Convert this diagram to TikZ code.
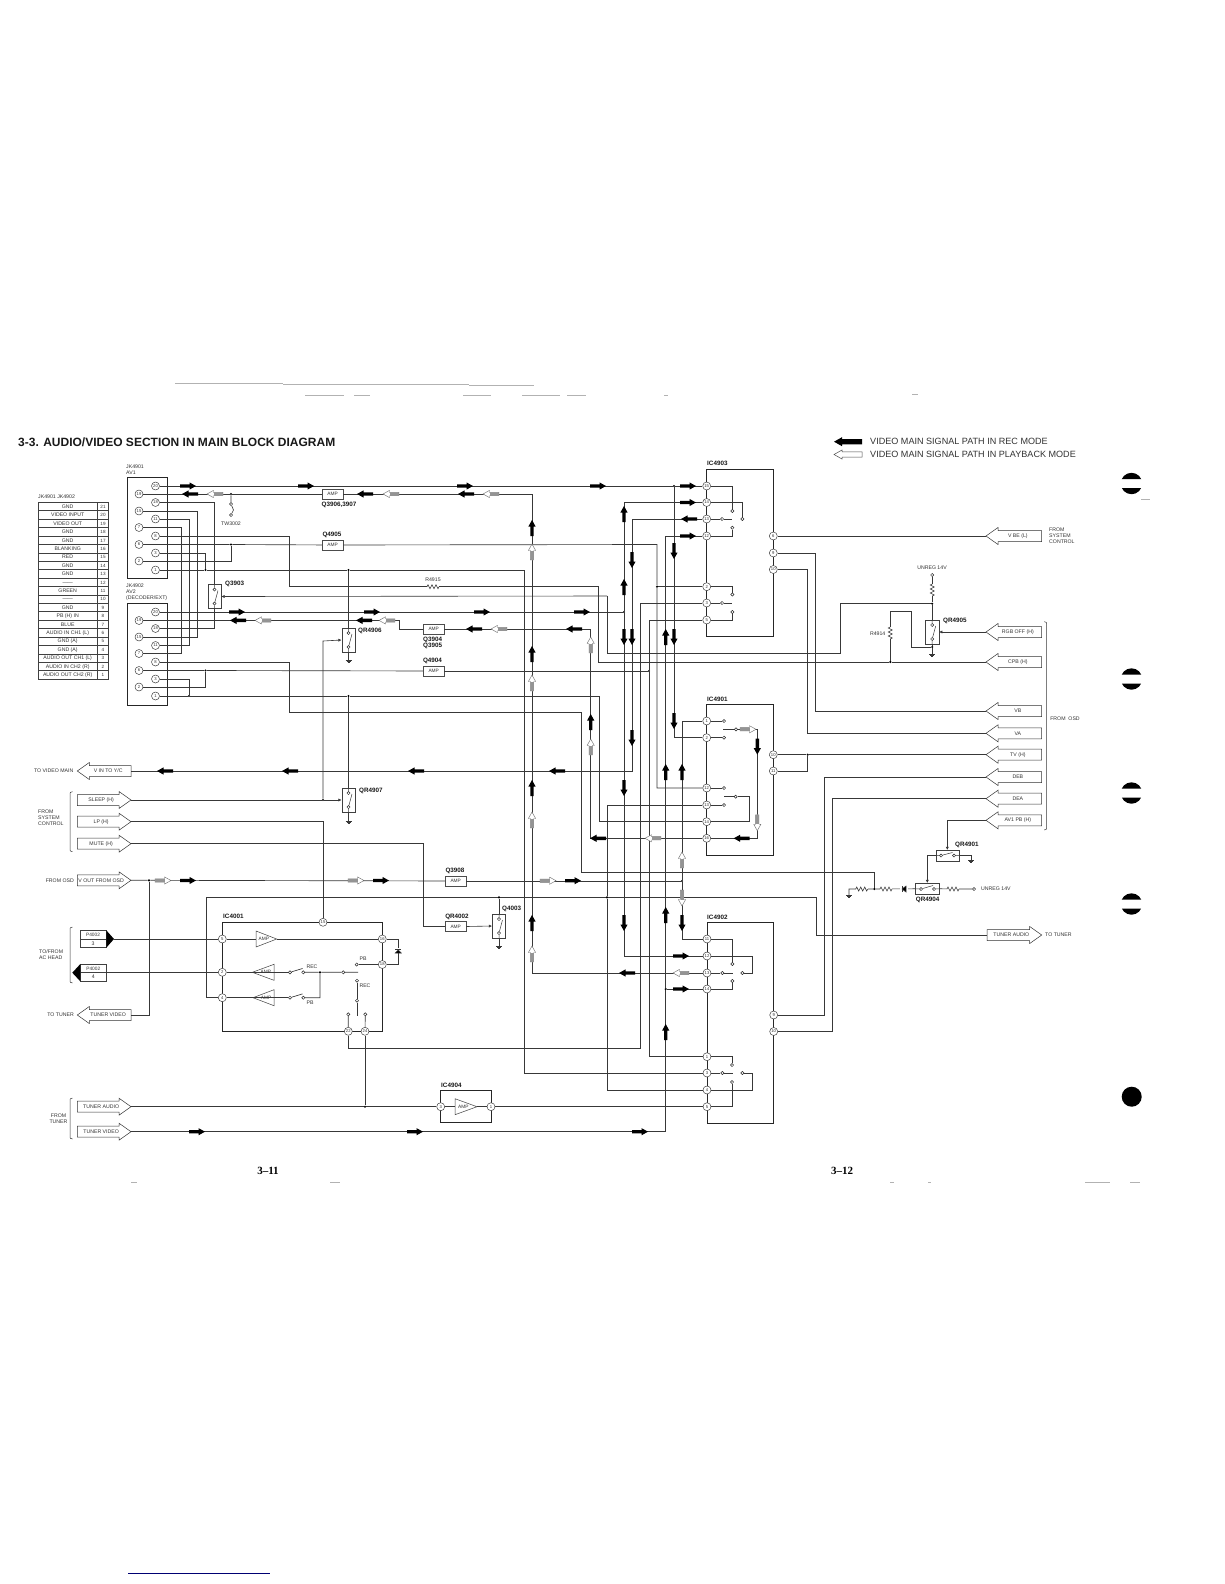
\documentclass[tikz,border=0pt]{standalone}
\usepackage{fontspec}
\setmainfont{Liberation Sans}
\newfontfamily\pagefont{Liberation Serif}
\usetikzlibrary{arrows.meta,fit}
\definecolor{ink}{gray}{0.22}
\definecolor{txt}{gray}{0.2}
\tikzset{
 wire/.style={draw=ink,line width=0.65pt},
 ctl/.style={draw=ink,line width=0.6pt,-{Latex[length=3.2pt,width=3.2pt]}},
 icbox/.style={draw=black!85,line width=0.85pt,inner sep=0pt},
 jackbox/.style={draw=black!85,line width=0.7pt,inner sep=0pt},
 pinnode/.style={circle,draw=black!80,fill=white,line width=0.45pt,minimum size=8pt,inner sep=0pt,text=txt,font=\fontsize{4.2}{5}\selectfont},
 termnode/.style={circle,draw=black!85,fill=white,line width=0.5pt,minimum size=3.2pt,inner sep=0pt},
 dotnode/.style={circle,fill=black,minimum size=2.4pt,inner sep=0pt},
 ampbox/.style={draw=black!70,fill=white,line width=0.5pt,minimum width=21pt,minimum height=10pt,inner sep=0pt,text=txt,font=\fontsize{4.8}{5}\selectfont},
 swbox/.style={draw=black!75,fill=white,line width=0.5pt,minimum width=13.4pt,minimum height=24pt,inner sep=0pt},
 lbl/.style={inner sep=0pt,text=txt,font=\fontsize{5.2}{6}\selectfont},
 rowlbl/.style={lbl,text height=3.7pt,text depth=0pt},
 blbl/.style={inner sep=0pt,text=black!90,font=\bfseries\fontsize{6.3}{6.6}\selectfont},
 portline/.style={draw=black!80,fill=white,line width=0.5pt},
 tri/.style={draw=black!75,fill=white,line width=0.5pt},
 strayline/.style={draw=black!30,line width=0.5pt},
}
% signal path arrows: centre x, y, canvas angle
\newcommand\recA[3]{\fill[black,shift={(#1,#2)},rotate=#3] (-8,-1.7)--(1.5,-1.7)--(1.5,-3.6)--(8,0)--(1.5,3.6)--(1.5,1.7)--(-8,1.7)--cycle;}
\newcommand\pbA[3]{\begin{scope}[shift={(#1,#2)},rotate=#3]\draw[fill=white,draw=black!60,line width=0.4pt] (-8,-1.7)--(1.5,-1.7)--(1.5,-3.6)--(8,0)--(1.5,3.6)--(1.5,1.7)--(-8,1.7)--cycle;\fill[black!42] (-8,-1.5) rectangle (1.5,1.5);\end{scope}}
\newcommand\pinN[4]{\node[pinnode] (#1) at (#2,#3) {#4};}
\newcommand\termN[3]{\node[termnode] (#1) at (#2,#3) {};}
\newcommand\dotN[3]{\node[dotnode] (#1) at (#2,#3) {};}
\newcommand\portL[5]{\coordinate (#1) at (#2,#3);\coordinate (#1-end) at ({#2+#4},#3);\draw[portline] (#1)--++(12,8.5)--++(0,-3)--++({#4-12},0)--++(0,-11)--++({12-#4},0)--++(0,-3)--cycle;\node[lbl] (#1-text) at ({#2+10+(#4-12)/2},#3) {#5};}
\newcommand\portR[5]{\coordinate (#1) at ({#2+#4},#3);\coordinate (#1-start) at (#2,#3);\draw[portline] (#1)--++(-12,8.5)--++(0,-3)--++({12-#4},0)--++(0,-11)--++({#4-12},0)--++(0,-3)--cycle;\node[lbl] (#1-text) at ({#2+3+(#4-12)/2},#3) {#5};}
\newcommand\vSwitch[3]{\node[swbox] (#1) at (#2,#3) {};\termN{#1a}{#2}{#3-7}\termN{#1b}{#2}{#3+7}\draw[wire,line width=.5pt] (#1.north)--(#1a) (#1b)--(#1.south) (#1b)--({#2+3.5},{#3-6});}
\newcommand\gndS[2]{\draw[ink,line width=.6pt] ({#1-3},#2)--({#1+3},#2) ({#1-2},{#2+1.3})--({#1+2},{#2+1.3}) ({#1-1},{#2+2.6})--({#1+1},{#2+2.6});}
\newcommand\resH[2]{\fill[white] ({#1-6},{#2-1})rectangle({#1+6},{#2+1});\draw[ink,line width=.6pt] ({#1-6},#2)--++(1,-2)--++(2,4)--++(2,-4)--++(2,4)--++(2,-4)--++(2,4)--++(1,-2);}
\newcommand\resV[2]{\fill[white] ({#1-1},{#2-6})rectangle({#1+1},{#2+6});\draw[ink,line width=.6pt] (#1,{#2-6})--++(-2,1)--++(4,2)--++(-4,2)--++(4,2)--++(-4,2)--++(4,2)--++(-2,1);}
\newcommand\ampTri[5]{\coordinate (#1t) at (#2,#3);\coordinate (#1b) at (#4,#3);\draw[tri] (#2,#3)--(#4,{#3-8})--(#4,{#3+8})--cycle;\node[inner sep=0pt,text=txt,font=\fontsize{4.8}{5}\selectfont] (#1) at ({#4+(#2-#4)*0.38},#3) {#5};}
\newcommand\braceL[3]{\draw[ink,line width=.5pt] ({#1+2.5},#2) .. controls (#1,#2) and (#1,{#2+1}) .. (#1,{#2+3}) -- (#1,{#3-3}) .. controls (#1,{#3-1}) and (#1,#3) .. ({#1+2.5},#3);}
\newcommand\braceR[3]{\draw[ink,line width=.5pt] ({#1-2.5},#2) .. controls (#1,#2) and (#1,{#2+1}) .. (#1,{#2+3}) -- (#1,{#3-3}) .. controls (#1,{#3-1}) and (#1,#3) .. ({#1-2.5},#3);}
\newcommand\capMark[2]{\begin{scope}\clip (1100,#2-15) rectangle (1160,#2-4.5) (1100,#2+4.5) rectangle (1160,#2+15);\fill[black] (#1,#2) circle (10.7);\end{scope}}
\begin{document}
\begin{tikzpicture}[x=1pt,y=-1pt]
\useasboundingbox (0,0) rectangle (1224,1584);
\fill[white] (0,0) rectangle (1224,1584);

% ---------- title, legend, page numbers
\node[anchor=west,inner sep=0pt,font=\bfseries\fontsize{12}{14}\selectfont,text=black!90] (title) at (18,442.5) {3-3. AUDIO/VIDEO SECTION IN MAIN BLOCK DIAGRAM};
\fill[black,shift={(848,441.7)}] (-14,0)--(-6,-4.5)--(-6,-2.6)--(14,-2.6)--(14,2.6)--(-6,2.6)--(-6,4.5)--cycle;
\draw[black!70,fill=white,line width=.5pt,shift={(848,454.5)}] (-14,0)--(-6,-4.5)--(-6,-2.6)--(14,-2.6)--(14,2.6)--(-6,2.6)--(-6,4.5)--cycle;
\node[anchor=west,inner sep=0pt,font=\fontsize{9.07}{10}\selectfont,text=txt] (leg1) at (870,441.7) {VIDEO MAIN SIGNAL PATH IN REC MODE};
\node[anchor=west,inner sep=0pt,font=\fontsize{9.07}{10}\selectfont,text=txt] (leg2) at (870,454.5) {VIDEO MAIN SIGNAL PATH IN PLAYBACK MODE};
\node[inner sep=0pt,font=\pagefont\bfseries\fontsize{11}{12}\selectfont] (pg11) at (268,1170.5) {3–11};
\node[inner sep=0pt,font=\pagefont\bfseries\fontsize{11}{12}\selectfont] (pg12) at (842,1170.5) {3–12};

% ---------- scan residue and edge marks
\draw[strayline] (175,383.3)--(283,383.3) (283,384.3)--(469,384.3) (469,385.3)--(534,385.3);
\draw[strayline] (305,395)--(344,395) (354,395)--(370,395) (463,395)--(491,395) (522,395)--(560,395) (567,395)--(586,395) (664,395)--(668,395) (912,394.5)--(918,394.5) (1141,499.5)--(1150,499.5);
\draw[strayline] (131,1182)--(137,1182) (330,1182)--(340,1182) (890,1182)--(894,1182) (928,1182)--(931,1182) (1085,1182)--(1110,1182) (1130,1182)--(1140,1182);
\draw[draw=blue!45!black,line width=.5pt] (128,1573)--(270,1573);
\capMark{1131.5}{483.5}
\capMark{1131.5}{679}
\capMark{1131.5}{793}
\capMark{1131.5}{904}
\fill[black] (1131.7,1096.7) circle (10);

% ---------- connector table
\node[lbl,anchor=west] (tabhead) at (38,497) {JK4901 JK4902};
\draw[black!75,line width=.55pt] (38,502.3) rectangle (108.5,679) (97.5,502.3)--(97.5,679);
\foreach \n/\t [count=\i from 0] in {21/GND,20/VIDEO INPUT,19/VIDEO OUT,18/GND,17/GND,16/BLANKING,15/RED,14/GND,13/GND,12/——,11/GREEN,10/——,9/GND,8/PB (H) IN,7/BLUE,6/AUDIO IN CH1 (L),5/GND (A),4/GND (A),3/AUDIO OUT CH1 (L),2/AUDIO IN CH2 (R),1/AUDIO OUT CH2 (R)}{
  \draw[black!75,line width=.45pt] (38,{502.3+\i*8.414})--(108.5,{502.3+\i*8.414});
  \node[rowlbl] (tt\n) at (67.7,{506.5+\i*8.414}) {\t};
  \node[rowlbl,font=\fontsize{4.6}{5}\selectfont] (tn\n) at (103,{506.5+\i*8.414}) {\n};
}

% ---------- boxes
\node[jackbox,fit={(127.3,477)(167.7,578)}] (av1) {};
\node[jackbox,fit={(127.3,603)(167.7,705)}] (av2) {};
\node[icbox,fit={(706.7,469)(773.3,636.7)}] (ic4903) {};
\node[icbox,fit={(706.7,704.3)(773.3,855)}] (ic4901) {};
\node[icbox,fit={(707,922.7)(773.7,1123.3)}] (ic4902) {};
\node[icbox,fit={(222.3,922.3)(382.3,1031.3)}] (ic4001) {};
\node[icbox,fit={(440.7,1090)(491,1122.7)}] (ic4904) {};
\node[lbl,anchor=west] (l4901) at (126,467) {JK4901};
\node[lbl,anchor=west] (lav1) at (126,473) {AV1};
\node[lbl,anchor=west,align=left] (l4902) at (126,592) {JK4902\\AV2\\(DECODER/EXT)};
\node[blbl,anchor=west] (lc) at (707,463.5) {IC4903};
\node[blbl,anchor=west] (ld) at (707,699) {IC4901};
\node[blbl,anchor=west] (le) at (707,917.5) {IC4902};
\node[blbl,anchor=west] (lf) at (223,916.5) {IC4001};
\node[blbl,anchor=west] (lg) at (441,1085) {IC4904};

% ---------- pins AV1
\pinN{a20}{155.5}{486}{20}\pinN{a19}{139}{494}{19}\pinN{a18}{155.5}{502.5}{18}\pinN{a15}{139}{511}{15}
\pinN{a11}{155.5}{519}{11}\pinN{a7}{139}{527.5}{7}\pinN{a8}{155.5}{536}{8}\pinN{a6}{139}{544.5}{6}
\pinN{a3}{155.5}{553}{3}\pinN{a2}{139}{561}{2}\pinN{a1}{155.5}{570}{1}
% pins AV2
\pinN{b20}{155.5}{612}{20}\pinN{b19}{139}{620.5}{19}\pinN{b18}{155.5}{628.5}{18}\pinN{b15}{139}{637}{15}
\pinN{b11}{155.5}{645.5}{11}\pinN{b7}{139}{653.5}{7}\pinN{b8}{155.5}{662}{8}\pinN{b6}{139}{670.5}{6}
\pinN{b3}{155.5}{679}{3}\pinN{b2}{139}{687}{2}\pinN{b1}{155.5}{696}{1}
% pins IC4903
\pinN{c15}{706.7}{486}{15}\pinN{c14}{706.7}{502.5}{14}\pinN{c13}{706.7}{519}{13}\pinN{c12}{706.7}{536}{12}
\pinN{c2}{706.7}{586.7}{2}\pinN{c3}{706.7}{603}{3}\pinN{c5}{706.7}{620}{5}
\pinN{c6}{773.3}{536}{6}\pinN{c9}{773.3}{553}{9}\pinN{c10}{773.3}{569.5}{10}
% pins IC4901
\pinN{d1}{706.7}{721}{1}\pinN{d2}{706.7}{737.7}{2}\pinN{d12}{706.7}{788}{12}\pinN{d13}{706.7}{805}{13}
\pinN{d14}{706.7}{821.7}{14}\pinN{d16}{706.7}{838.3}{16}\pinN{d10}{773.3}{754.7}{10}\pinN{d11}{773.3}{771}{11}
% pins IC4902
\pinN{e11}{707}{939}{11}\pinN{e12}{707}{956}{12}\pinN{e13}{707}{973}{13}\pinN{e14}{707}{989}{14}
\pinN{e1}{707}{1056.7}{1}\pinN{e3}{707}{1073}{3}\pinN{e4}{707}{1090}{4}\pinN{e5}{707}{1106.7}{5}
\pinN{e9}{773.7}{1015}{9}\pinN{e10}{773.7}{1031.5}{10}
% pins IC4001 / IC4904
\pinN{f15}{323}{922.3}{15}\pinN{f5}{222.3}{939}{5}\pinN{f2}{222.3}{972.3}{2}\pinN{f4}{222.3}{997.7}{4}
\pinN{f16}{382.3}{939}{16}\pinN{f18}{382.3}{964.5}{18}\pinN{f22}{348.3}{1031.3}{22}\pinN{f24}{365}{1031.3}{24}
\pinN{g3}{440.7}{1106.7}{3}\pinN{g1}{491}{1106.7}{1}

% ---------- amplifier boxes and switches
\node[ampbox] (q3906) at (332.5,494) {AMP};
\node[ampbox] (q4905) at (332.5,545) {AMP};
\node[ampbox] (q3904) at (433.7,629) {AMP};
\node[ampbox] (q4904) at (433.7,671) {AMP};
\node[ampbox] (q3908) at (455.7,881) {AMP};
\node[ampbox] (qr4002) at (455.7,926.7) {AMP};
\node[blbl] (lq3906) at (339,504.5) {Q3906,3907};
\node[blbl] (lq4905) at (332,535) {Q4905};
\node[blbl,align=left,anchor=north west] (lq3904) at (423,636.5) {Q3904\\Q3905};
\node[blbl] (lq4904) at (432.5,661) {Q4904};
\node[blbl] (lq3908) at (455,871) {Q3908};
\node[blbl] (lqr4002) at (457,916.5) {QR4002};
\vSwitch{q3903}{214.5}{596.5}
\vSwitch{qr4906}{348.5}{640}
\vSwitch{qr4907}{348.5}{800}
\vSwitch{q4003}{499}{926}
\vSwitch{qr4905}{932.2}{632}
\node[blbl,anchor=west] (lq3903) at (225,584) {Q3903};
\node[blbl,anchor=west] (lqr4906) at (358,631) {QR4906};
\node[blbl,anchor=west] (lqr4907) at (359,790.5) {QR4907};
\node[blbl,anchor=west] (lq4003) at (502,909) {Q4003};
\node[blbl,anchor=west] (lqr4905) at (943,621) {QR4905};
\node[swbox,minimum width=23.3pt,minimum height=11pt] (qr4901) at (947.7,855.5) {};
\node[swbox,minimum width=23.6pt,minimum height=11pt] (qr4904) at (927.5,888.8) {};
\node[blbl,anchor=west] (lqr4901) at (955,845) {QR4901};
\node[blbl] (lqr4904) at (927.7,899.5) {QR4904};
\termN{qr4901a}{941}{855.5}\termN{qr4901b}{954}{855.5}
\termN{qr4904a}{921}{889}\termN{qr4904b}{934}{889}
\draw[wire,line width=.5pt] (qr4901.west)--(qr4901a) (qr4901a)--(952.5,852.5) (qr4901b)--(qr4901.east);
\draw[wire,line width=.5pt] (qr4904.west)--(qr4904a) (qr4904a)--(933,885.5) (qr4904b)--(qr4904.east);

% ---------- terminals, junctions
\termN{tw1}{231}{504}\termN{tw2}{231}{515}
\node[lbl] (ltw) at (231,524) {TW3002};
\dotN{j231a}{231}{494}\dotN{j231b}{231}{544.5}\dotN{j205a}{205.5}{570}\dotN{j348a}{348.5}{570}
\dotN{j205b}{205.5}{670.5}\dotN{j189}{189}{696}\dotN{j348b}{348.5}{696}
\dotN{j323}{323}{800}\dotN{j149}{149}{880.3}\dotN{j674}{674}{486}\dotN{j657}{657}{586.7}
\dotN{j624}{624}{612}\dotN{j649}{649}{671}\dotN{j682}{682}{881}\dotN{j499}{499}{897.3}
\dotN{j607}{607}{897.3}\dotN{j665}{665.7}{989}\dotN{j874}{874.3}{889}\dotN{j932a}{932.2}{603.7}
\dotN{j932b}{932.2}{647}\dotN{j890}{890.3}{662}\dotN{j807}{807.7}{754.7}\dotN{j365}{365}{1106.7}\dotN{j320}{320}{972.3}
% IC4903 contacts
\termN{ca}{732.3}{511}\termN{cb}{742.3}{519}\termN{cc}{722}{519}\termN{cd}{732.3}{527.7}
\termN{ce}{732.3}{594.5}\termN{cf}{722}{603}\termN{cg}{732.3}{612}
% IC4901 contacts
\termN{da}{724}{721}\termN{db}{724}{737.7}\termN{dc}{736}{729.3}\termN{dd}{724}{788}\termN{de}{724}{805}\termN{df}{735.7}{796.7}
% IC4902 contacts
\termN{ea}{732.3}{964}\termN{eb}{742.3}{973}\termN{ec}{722.3}{973}\termN{ed}{732.3}{981}
\termN{ee}{732}{1065}\termN{ef}{722.3}{1073}\termN{eg}{742.3}{1073}\termN{eh}{732}{1082}
% IC4001 contacts
\termN{fa}{290}{972.3}\termN{fb}{303.3}{972.3}\termN{fc}{290}{997.7}\termN{fd}{303.3}{997.7}
\termN{fe}{343.3}{972.3}\termN{ff}{356.7}{964.5}\termN{fg}{357}{980.7}\termN{fh}{357}{1000.7}
\termN{fi}{348.3}{1014.3}\termN{fj}{365.3}{1014.3}
\ampTri{amp1}{276.7}{939}{256}{AMP}
\ampTri{amp2}{252.3}{972.3}{274}{AMP}
\ampTri{amp3}{253}{997.7}{274}{AMP}
\ampTri{amp4}{477}{1106.7}{455}{AMP}
\node[lbl] (lpb1) at (363,959) {PB};
\node[lbl] (lrec1) at (312,967) {REC};
\node[lbl] (lrec2) at (365,986) {REC};
\node[lbl] (lpb2) at (310,1003) {PB};

% ---------- ports
\portL{vbe}{986}{536}{55.7}{V BE (L)}
\portL{rgb}{986}{632}{55.7}{RGB OFF (H)}
\portL{cpb}{986}{662}{55.7}{CPB (H)}
\portL{vb}{986}{711}{55.7}{VB}
\portL{va}{986}{733.3}{55.7}{VA}
\portL{tvh}{986}{754.7}{55.7}{TV (H)}
\portL{deb}{986}{777}{55.7}{DEB}
\portL{dea}{986}{798.7}{55.7}{DEA}
\portL{avpb}{986}{820.3}{55.7}{AV1 PB (H)}
\portR{tunaud}{987}{935}{54.7}{TUNER AUDIO}
\portL{vin}{77.3}{771}{53.7}{V IN TO Y/C}
\portR{sleep}{77.3}{800}{53.7}{SLEEP (H)}
\portR{lp}{77.3}{821.7}{53.7}{LP (H)}
\portR{mute}{77.3}{843.7}{53.7}{MUTE (H)}
\portR{vout}{77.3}{880.3}{53.7}{V OUT FROM OSD}
\portL{tvid}{77.3}{1015}{53.7}{TUNER VIDEO}
\portR{tuna}{77.3}{1106.7}{53.7}{TUNER AUDIO}
\portR{tunv}{77.3}{1131.7}{53.7}{TUNER VIDEO}
% head plugs
\node[draw=black!75,line width=.5pt,minimum width=26pt,minimum height=17pt,inner sep=0pt] (p3) at (93,939) {};
\node[draw=black!75,line width=.5pt,minimum width=25.3pt,minimum height=17pt,inner sep=0pt] (p4) at (93.3,972.7) {};
\draw[black!75,line width=.5pt] (p3.west)--(p3.east) (p4.west)--(p4.east);
\fill[black] (p3.north east)--(114,939)--(p3.south east)--cycle;
\fill[black] (p4.north west)--(72.3,972.7)--(p4.south west)--cycle;
\coordinate (p3tip) at (114,939);
\node[lbl,font=\fontsize{4.8}{5}\selectfont] (p3a) at (93,935) {P4002};\node[lbl] (p3b) at (93,943.5) {3};
\node[lbl,font=\fontsize{4.8}{5}\selectfont] (p4a) at (93.3,968.5) {P4002};\node[lbl] (p4b) at (93.3,977) {4};
% side labels and braces
\node[lbl,anchor=east] (ltv) at (73.5,771) {TO VIDEO MAIN};
\node[lbl,anchor=east] (lfo) at (74,880.3) {FROM OSD};
\node[lbl,anchor=east] (ltt) at (74,1015) {TO TUNER};
\node[lbl,anchor=west,align=left] (lfs) at (38,818) {FROM\\SYSTEM\\CONTROL};
\node[lbl,anchor=west,align=left] (lac) at (39,955) {TO/FROM\\AC HEAD};
\node[lbl,align=center] (lft) at (58.5,1119) {FROM\\TUNER};
\node[lbl,anchor=west,align=left] (lfs2) at (1049,536) {FROM\\SYSTEM\\CONTROL};
\node[lbl] (lfo2) at (1065,719) {FROM\ \ OSD};
\node[lbl,anchor=west] (ltt2) at (1045,935) {TO TUNER};
\node[lbl] (lun1) at (932,567.5) {UNREG 14V};
\node[lbl,anchor=west] (lun2) at (981,889) {UNREG 14V};
\node[lbl] (lr15) at (433,580) {R4915};
\node[lbl] (lr14) at (877.7,633.7) {R4914};
\braceL{70}{791.7}{851.7}
\braceL{70}{927}{983}
\braceL{70}{1098}{1139}
\braceR{1046.7}{621.7}{830}

% ---------- wires
\termN{un1}{932.2}{575}\termN{un2}{974}{889}
\begin{scope}[every path/.style={wire}]
\draw (a20)--(j674)--(c15);
\draw (a19)--(j231a)--(q3906);
\draw (q3906)--(532,494)--(532,973)--(e13);
\draw (j231a)--(tw1) (tw1)--(233.5,510)--(tw2);
\draw (a18)--(214.5,502.5)--(q3903.north);
\draw (q3903.south)--(214.5,628.5)--(b18);
\draw (a15)--(197,511)--(197,637)--(b15);
\draw (a11)--(189,519)--(189,645.5)--(b11);
\draw (a7)--(181,527.5)--(181,653.5)--(b7);
\draw (a8)--(289,536)--(289,586.7)--(598.7,586.7)--(598.7,662)--(j890)--(cpb);
\draw (a6)--(j231b)--(q4905);
\draw (q4905)--(657,544.5)--(j657)--(657,788)--(d12);
\draw (j657)--(c2);
\draw (a3)--(205.5,553)--(j205a);
\draw (a2)--(231,561)--(j231b);
\draw (a1)--(j205a)--(j348a)--(524,570)--(524,1073)--(e3);
\draw (j348a)--(qr4906.north);
\draw (b20)--(j624);
\draw (b19)--(399,620.5)--(399,629)--(q3904);
\draw (q3904)--(590.7,629)--(590.7,838.3)--(d16);
\draw (b8)--(289,662)--(289,712.7)--(581.7,712.7)--(581.7,872)--(874.3,872)--(j874);
\draw (b6)--(j205b)--(q4904);
\draw (q4904)--(j649);
\draw (b3)--(189,679)--(j189);
\draw (b2)--(205.5,687)--(j205b);
\draw (b1)--(j189)--(j348b)--(599,696)--(599,821.7)--(d14);
\draw (j348b)--(qr4907.north);
\draw (sleep)--(j323);
\draw (lp)--(323,821.7)--(f15);
\draw (mute)--(423.3,843.7)--(423.3,926.7)--(qr4002);
\draw (vout)--(j149)--(q3908);
\draw (q3908)--(j682);
\draw (j149)--(149,1015)--(tvid-end);
\draw (d1)--(682,721)--(j682)--(682,939)--(e11);
\draw (f4)--(206,997.7)--(206,897.3)--(j499)--(j607)--(816.7,897.3)--(816.7,935)--(tunaud-start);
\draw (q4003.north)--(j499);
\draw (d13)--(607,805)--(j607)--(607,1090)--(e4);
\draw (c14)--(624,502.5)--(j624)--(624,956)--(e12);
\draw (c13)--(632,519)--(632,771)--(vin-end);
\draw (c3)--(640.7,603)--(640.7,1048)--(348.3,1048)--(f22);
\draw (c5)--(649,620)--(j649)--(649,1056.7)--(e1);
\draw (c12)--(665.7,536)--(j665)--(665.7,1131.7)--(tunv);
\draw (j665)--(e14);
\draw (j674)--(674,737.7)--(d2);
\draw (tuna)--(j365)--(g3);
\draw (j365)--(f24);
\draw (g3)--(amp4b) (amp4t)--(g1);
\draw (g1)--(e5);
% IC4903 internals
\draw (c15)--(732.3,486)--(ca);
\draw (c14)--(742.3,502.5)--(cb);
\draw (c13)--(cc) (cc)--(731.7,519);
\draw (c12)--(732.3,536)--(cd);
\draw (c2)--(732.3,586.7)--(ce);
\draw (c3)--(cf) (cf)--(731.7,603);
\draw (c5)--(732.3,620)--(cg);
% IC4901 internals
\draw (d1)--(da) (d2)--(db) (d12)--(dd) (d13)--(de);
\draw (723.3,729.3)--(dc) (dc)--(757.3,729.3)--(757.3,838.3)--(d16);
\draw (d14)--(749,821.7)--(749,796.7)--(df) (df)--(724,796.7);
% IC4902 internals
\draw (e11)--(732.3,939)--(ea);
\draw (e12)--(752.7,956)--(752.7,973)--(eb);
\draw (e13)--(ec) (ec)--(733,973);
\draw (e14)--(732.3,989)--(ed);
\draw (e1)--(732,1056.7)--(ee);
\draw (e3)--(ef) (ef)--(733,1073);
\draw (eg)--(752.7,1073)--(752.7,1090)--(e4);
\draw (e5)--(732,1106.7)--(eh);
% IC4001 internals
\draw (p3tip)--(f5);
\draw (p4.east|-f2)--(f2);
\draw (f5)--(amp1b) (amp1t)--(f16);
\draw (f2)--(amp2b) (amp2t)--(fa);
\draw (f4)--(amp3b) (amp3t)--(fc);
\draw (fa)--(302.5,968.5) (fb)--(j320)--(fe) (fe)--(358,972.3);
\draw (fc)--(302.5,993.9) (fd)--(320,997.7)--(j320);
\draw (f16)--(398.3,939)--(398.3,964.5)--(f18);
\draw (f18)--(ff);
\draw (fg)--(fh) (fh)--(357,1015.7);
\draw (fi)--(f22) (fj)--(f24);
% right side
\draw (vbe)--(c6);
\draw (c9)--(815.7,553)--(815.7,711)--(vb);
\draw (c10)--(807.7,569.5)--(807.7,733.3)--(va);
\draw (d10)--(j807)--(tvh);
\draw (d11)--(807.7,771)--(j807);
\draw (deb)--(824.3,777)--(824.3,1015)--(e9);
\draw (dea)--(832.7,798.7)--(832.7,1031.5)--(e10);
\draw (un1)--(j932a)--(qr4905.north);
\draw (qr4905.south)--(j932b)--(911.7,647)--(911.7,611.7)--(890.3,611.7)--(j890);
\draw (j932b)--(932.2,654);
\draw (j932a)--(840,603.7)--(840,653)--(607,653)--(607,596);
\draw (qr4901.east)--(971,855.5)--(971,860);
\draw (849,895)--(849,889)--(j874)--(qr4904.west);
\draw (qr4904.east)--(un2);
\end{scope}
\draw[ctl] (607,596)--(q3903.east);
\draw[ctl] (j323)--(323,641)--(qr4906.west);
\draw[ctl] (j323)--(qr4907.west);
\draw[ctl] (qr4002)--(q4003.west);
\draw[ctl] (rgb)--(qr4905.east);
\draw[ctl] (avpb)--(947.3,820.3)--(947.3,850);
\draw[ctl] (qr4901.west)--(927.3,855.5)--(927.3,883);
\draw[wire] (qr4906.south)--(348.5,660);
\draw[wire] (qr4907.south)--(348.5,821);
\draw[wire] (q4003.south)--(499,946);
\gndS{348.5}{660}
\gndS{348.5}{821}
\gndS{499}{946}
\gndS{932.2}{654}
\gndS{971}{860}
\gndS{849}{895}
% resistors, diodes
\resH{433}{586.7}
\resV{932.2}{590}
\resV{890.3}{633}
\resH{861.7}{889}
\resH{886}{889}
\resH{953}{889}
\fill[white] (900,887) rectangle (908,891);
\draw[ink,fill=black,line width=.5pt] (906,886)--(906,892)--(902,889)--cycle;
\draw[ink,line width=.7pt] (902,886)--(902,892);
\fill[white] (396,948) rectangle (400.6,953);
\draw[ink,fill=black,line width=.5pt] (395.3,953)--(401.3,953)--(398.3,950)--cycle;
\draw[ink,line width=.7pt] (395.3,949.5)--(401.3,949.5);
% ---------- signal path arrows
\foreach \x in {188,306,465,598,688}{\recA{\x}{486}{0}}
\recA{190}{494}{180}\pbA{215}{494}{180}\recA{365}{494}{180}\pbA{391}{494}{180}\recA{466}{494}{180}\pbA{491}{494}{180}
\foreach \x in {237,372,482,582}{\recA{\x}{612}{0}}
\recA{238}{620.4}{180}\pbA{263}{620.4}{180}\recA{364}{620.4}{180}\pbA{387}{620.4}{180}
\recA{474}{629}{180}\pbA{499}{629}{180}\recA{574}{629}{180}
\foreach \y in {528,654,788,923}{\recA{532}{\y}{90}}
\foreach \y in {552,683,820,954}{\pbA{532}{\y}{90}}
\pbA{590.7}{645}{90}\recA{590.7}{722}{90}\pbA{590.7}{747}{90}
\recA{598}{838.3}{180}\pbA{653}{838.3}{180}
\recA{624}{514}{90}\recA{624}{587}{90}\recA{624}{637}{270}\recA{624}{788}{270}\recA{624}{923}{270}
\recA{632}{560}{270}\recA{632}{637}{270}\recA{632}{738}{270}
\foreach \y in {637,772,915,1032}{\recA{665.7}{\y}{90}}
\recA{674}{551}{270}\recA{674}{637}{270}\recA{674}{721}{270}
\recA{682}{772}{90}\pbA{682}{860}{90}\pbA{682}{898}{270}\recA{682}{923}{270}
\recA{688}{502.5}{0}\recA{689}{519}{180}\recA{688}{536}{0}
\foreach \x in {557,416,290,165}{\recA{\x}{771}{180}}
\pbA{163}{880.5}{0}\recA{188}{880.5}{0}\pbA{356}{880.5}{0}\recA{381}{880.5}{0}\pbA{548}{880.7}{0}\recA{573}{880.7}{0}
\pbA{748}{729.3}{0}\recA{757.3}{746.6}{270}\pbA{757.3}{822.7}{270}\recA{741.7}{838.3}{180}
\recA{681}{956}{0}\recA{627}{973}{180}\pbA{681}{973}{180}\recA{681}{989}{0}
\foreach \x in {197,415,640}{\recA{\x}{1131.7}{0}}
\end{tikzpicture}
\end{document}
